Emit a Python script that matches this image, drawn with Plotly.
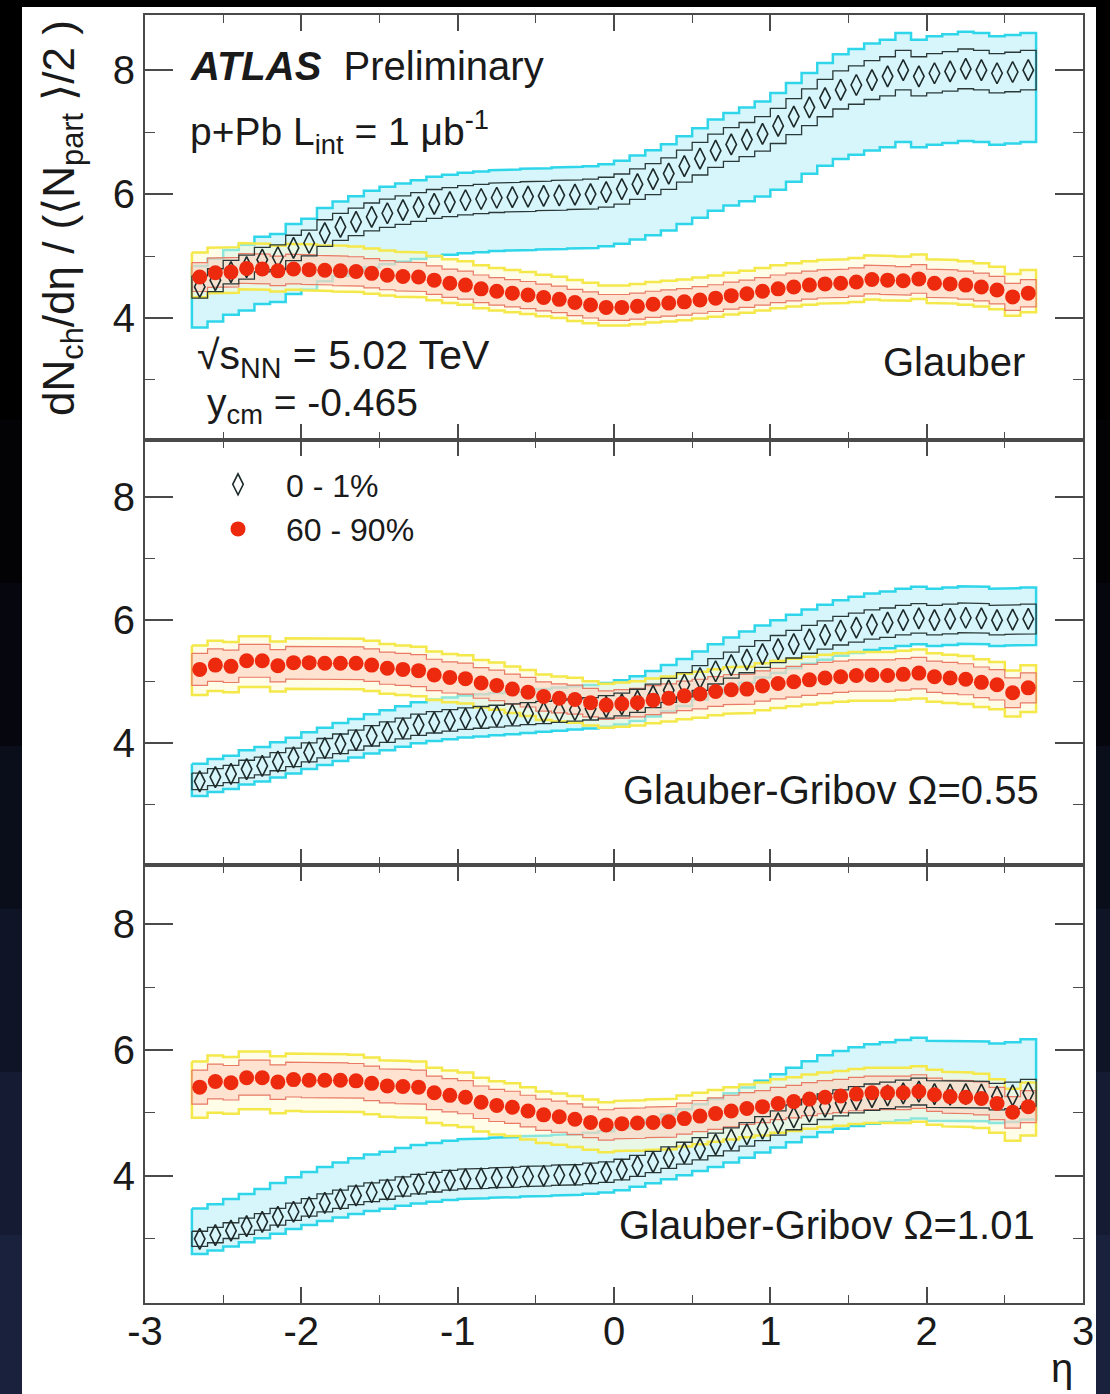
import plotly.graph_objects as go
from plotly.subplots import make_subplots

# ---------------- data ----------------
eta = [-2.65, -2.55, -2.45, -2.35, -2.25, -2.15, -2.05, -1.95, -1.85, -1.75,
       -1.65, -1.55, -1.45, -1.35, -1.25, -1.15, -1.05, -0.95, -0.85, -0.75,
       -0.65, -0.55, -0.45, -0.35, -0.25, -0.15, -0.05, 0.05, 0.15, 0.25,
       0.35, 0.45, 0.55, 0.65, 0.75, 0.85, 0.95, 1.05, 1.15, 1.25,
       1.35, 1.45, 1.55, 1.65, 1.75, 1.85, 1.95, 2.05, 2.15, 2.25,
       2.35, 2.45, 2.55, 2.65]
bin_width = 0.1

# Panel 1: Glauber
glauber_0_1 = [4.50, 4.61, 4.74, 4.82, 4.94, 4.98, 5.13, 5.21, 5.37, 5.47,
               5.55, 5.63, 5.69, 5.74, 5.79, 5.84, 5.87, 5.90, 5.92, 5.94,
               5.95, 5.96, 5.97, 5.98, 5.99, 6.00, 6.03, 6.08, 6.16, 6.24,
               6.33, 6.45, 6.57, 6.70, 6.80, 6.88, 6.97, 7.10, 7.25, 7.40,
               7.55, 7.68, 7.76, 7.84, 7.90, 8.00, 7.90, 7.95, 7.98, 8.02,
               8.00, 7.95, 7.97, 8.00]
glauber_60_90 = [4.66, 4.73, 4.74, 4.80, 4.79, 4.76, 4.79, 4.78, 4.77, 4.76,
                 4.75, 4.72, 4.69, 4.67, 4.66, 4.61, 4.56, 4.53, 4.47, 4.43,
                 4.40, 4.37, 4.33, 4.30, 4.25, 4.21, 4.17, 4.17, 4.19, 4.22,
                 4.24, 4.26, 4.29, 4.32, 4.36, 4.39, 4.43, 4.47, 4.50, 4.53,
                 4.55, 4.56, 4.58, 4.62, 4.61, 4.60, 4.63, 4.56, 4.55, 4.53,
                 4.50, 4.45, 4.34, 4.40]

# Panel 2: Glauber-Gribov Omega=0.55
gg055_0_1 = [3.38, 3.45, 3.50, 3.58, 3.63, 3.70, 3.77, 3.85, 3.92, 3.99,
             4.05, 4.12, 4.18, 4.24, 4.30, 4.34, 4.37, 4.40, 4.42, 4.44,
             4.46, 4.48, 4.50, 4.52, 4.54, 4.56, 4.59, 4.63, 4.69, 4.77,
             4.86, 4.95, 5.06, 5.17, 5.27, 5.36, 5.45, 5.53, 5.61, 5.69,
             5.76, 5.83, 5.88, 5.93, 5.96, 6.00, 6.03, 6.00, 6.02, 6.04,
             6.03, 6.00, 6.01, 6.02]
gg055_60_90 = [5.20, 5.27, 5.25, 5.34, 5.34, 5.26, 5.31, 5.31, 5.30, 5.30,
               5.30, 5.27, 5.22, 5.20, 5.18, 5.11, 5.07, 5.05, 4.98, 4.94,
               4.88, 4.83, 4.76, 4.73, 4.71, 4.66, 4.62, 4.64, 4.66, 4.70,
               4.73, 4.77, 4.80, 4.84, 4.87, 4.88, 4.93, 4.97, 5.00, 5.03,
               5.06, 5.08, 5.10, 5.11, 5.10, 5.12, 5.14, 5.08, 5.06, 5.04,
               4.99, 4.95, 4.82, 4.90]

# Panel 3: Glauber-Gribov Omega=1.01
gg101_0_1 = [3.00, 3.06, 3.13, 3.20, 3.27, 3.35, 3.43, 3.50, 3.57, 3.63,
             3.69, 3.74, 3.78, 3.83, 3.87, 3.90, 3.93, 3.95, 3.96, 3.97,
             3.98, 3.99, 4.00, 4.01, 4.02, 4.04, 4.06, 4.10, 4.16, 4.22,
             4.29, 4.36, 4.43, 4.50, 4.58, 4.66, 4.75, 4.84, 4.93, 5.02,
             5.10, 5.16, 5.21, 5.25, 5.28, 5.31, 5.34, 5.30, 5.29, 5.30,
             5.29, 5.26, 5.28, 5.32]
gg101_60_90 = [5.41, 5.50, 5.48, 5.56, 5.56, 5.49, 5.53, 5.52, 5.52, 5.52,
               5.51, 5.47, 5.43, 5.42, 5.41, 5.32, 5.28, 5.25, 5.17, 5.12,
               5.09, 5.03, 4.97, 4.94, 4.90, 4.85, 4.81, 4.83, 4.84, 4.85,
               4.86, 4.91, 4.95, 4.99, 5.03, 5.07, 5.10, 5.15, 5.18, 5.22,
               5.25, 5.27, 5.30, 5.32, 5.32, 5.32, 5.34, 5.29, 5.26, 5.25,
               5.23, 5.15, 5.01, 5.10]

# relative uncertainties (fractions)
inner_0_1 = 0.04          # black box around diamonds
inner_60_90 = 0.05        # salmon box around circles
outer_up_0_1 = [0.075, 0.085, 0.16]     # cyan band, per panel
outer_dn_0_1 = [0.145, 0.07, 0.08]
outer_up_60_90 = [0.085, 0.075, 0.075]  # yellow band, per panel
outer_dn_60_90 = [0.07, 0.08, 0.09]

panel_labels = ["Glauber", "Glauber-Gribov Ω=0.55", "Glauber-Gribov Ω=1.01"]
series_names = ["0 - 1%", "60 - 90%"]
x_ticks = [-3, -2, -1, 0, 1, 2, 3]
x_ticktext = ["-3", "-2", "-1", "0", "1", "2", "3"]
y_ticks = [4, 6, 8]
y_minor = [3, 5, 7]

central_0_1 = [glauber_0_1, gg055_0_1, gg101_0_1]
central_60_90 = [glauber_60_90, gg055_60_90, gg101_60_90]

# ---------------- layout geometry (pixels) ----------------
W, H = 1110, 1394
L, R, T, B = 145, 1083, 15, 1303
pw, ph = R - L, B - T


def xp(px):
    return (px - L) / pw


def yp(py):
    return (B - py) / ph


domains = [[yp(440), 1.0], [yp(865), yp(440)], [0.0, yp(865)]]
yranges = [[2.03, 8.89], [2.02, 8.93], [1.98, 8.94]]


def band(xc, lo, hi):
    xs, ys = [], []
    for e, h in zip(xc, hi):
        xs += [e - bin_width / 2, e + bin_width / 2]
        ys += [h, h]
    for e, l in reversed(list(zip(xc, lo))):
        xs += [e + bin_width / 2, e - bin_width / 2]
        ys += [l, l]
    xs.append(xs[0])
    ys.append(ys[0])
    return xs, ys


fig = make_subplots(rows=3, cols=1, shared_xaxes=True, vertical_spacing=0)

CYAN_LINE = "#2fd6ea"
CYAN_FILL = "rgba(204,243,251,0.78)"
YEL_LINE = "#f4e84a"
YEL_FILL = "rgba(255,251,205,0.45)"
SAL_LINE = "#e87a66"
SAL_FILL = "rgba(255,205,188,0.55)"
BLK_LINE = "#2a3838"
RED = "#ee2a0e"

for p in range(3):
    row = p + 1
    c0 = central_0_1[p]
    c6 = central_60_90[p]
    xs, ys = band(eta, [v * (1 - outer_dn_0_1[p]) for v in c0],
                  [v * (1 + outer_up_0_1[p]) for v in c0])
    fig.add_trace(go.Scatter(x=xs, y=ys, mode="lines", fill="toself",
                             fillcolor=CYAN_FILL,
                             line=dict(color=CYAN_LINE, width=2.5),
                             showlegend=False, hoverinfo="skip"),
                  row=row, col=1)
    xs, ys = band(eta, [v * (1 - outer_dn_60_90[p]) for v in c6],
                  [v * (1 + outer_up_60_90[p]) for v in c6])
    fig.add_trace(go.Scatter(x=xs, y=ys, mode="lines", fill="toself",
                             fillcolor=YEL_FILL,
                             line=dict(color=YEL_LINE, width=2.5),
                             showlegend=False, hoverinfo="skip"),
                  row=row, col=1)
    xs, ys = band(eta, [v * (1 - inner_60_90) for v in c6],
                  [v * (1 + inner_60_90) for v in c6])
    fig.add_trace(go.Scatter(x=xs, y=ys, mode="lines", fill="toself",
                             fillcolor=SAL_FILL,
                             line=dict(color=SAL_LINE, width=1.2),
                             showlegend=False, hoverinfo="skip"),
                  row=row, col=1)
    xs, ys = band(eta, [v * (1 - inner_0_1) for v in c0],
                  [v * (1 + inner_0_1) for v in c0])
    fig.add_trace(go.Scatter(x=xs, y=ys, mode="lines",
                             line=dict(color=BLK_LINE, width=1.3),
                             showlegend=False, hoverinfo="skip"),
                  row=row, col=1)
    fig.add_trace(go.Scatter(x=eta, y=c0, mode="markers", name=series_names[0],
                             marker=dict(symbol="diamond-tall-open", size=15,
                                         color="#1e2a2a", line=dict(width=1.6)),
                             showlegend=(p == 0), legendrank=1),
                  row=row, col=1)
    fig.add_trace(go.Scatter(x=eta, y=c6, mode="markers", name=series_names[1],
                             marker=dict(symbol="circle", size=15, color=RED,
                                         line=dict(width=0)),
                             showlegend=(p == 0), legendrank=2),
                  row=row, col=1)

FONT = "Liberation Sans, Arial, sans-serif"
TXT = "#1a1a1a"
TICKFONT = dict(family=FONT, size=40, color=TXT)
AXC = "#4a4a4a"

for p in range(3):
    row = p + 1
    fig.update_xaxes(range=[-3, 3], tickvals=x_ticks, ticktext=x_ticktext,
                     ticks="inside", ticklen=16,
                     tickwidth=1.5, tickcolor=AXC,
                     minor=dict(dtick=0.5, tick0=0, ticks="inside", ticklen=8,
                                tickwidth=1.2, tickcolor=AXC),
                     showline=True, linecolor=AXC, linewidth=2, mirror="ticks",
                     showgrid=False, zeroline=False,
                     showticklabels=(row == 3), tickfont=TICKFONT,
                     ticklabelstandoff=-8,
                     row=row, col=1)
    fig.update_yaxes(range=yranges[p], domain=domains[p], tickvals=y_ticks,
                     ticks="inside", ticklen=28, tickwidth=1.5, tickcolor=AXC,
                     minor=dict(tickvals=y_minor, ticks="inside", ticklen=10,
                                tickwidth=1.2, tickcolor=AXC),
                     showline=True, linecolor=AXC, linewidth=2, mirror="ticks",
                     showgrid=False, zeroline=False, tickfont=TICKFONT,
                     ticklabelstandoff=0,
                     row=row, col=1)


def ann(text, x, y, size=34, xanchor="left", yanchor="middle", angle=0):
    fig.add_annotation(text=text, x=xp(x), y=yp(y), xref="paper", yref="paper",
                       xanchor=xanchor, yanchor=yanchor, showarrow=False,
                       textangle=angle,
                       font=dict(family=FONT, size=size, color=TXT))


ann("<b><i>ATLAS</i></b>  Preliminary", 188, 66, size=40)
ann("p+Pb L<sub>int</sub> = 1 μb<sup>-1</sup>", 188, 132, size=39)
ann("√s<sub>NN</sub> = 5.02 TeV", 195, 358, size=41)
ann("y<sub>cm</sub> = -0.465", 205, 405, size=39)
ann(panel_labels[0], 1027, 362, size=40, xanchor="right")
ann(panel_labels[1], 1041, 790, size=40, xanchor="right")
ann(panel_labels[2], 1037, 1225, size=40, xanchor="right")
ann("η", 1062, 1368, size=40, xanchor="center")
ann("dN<sub>ch</sub>/dη / (⟨N<sub>part</sub> ⟩/2 )", 62, 218, size=44,
    xanchor="center", angle=-90)

shapes = [
    dict(type="rect", xref="paper", yref="paper", x0=xp(22), x1=xp(1096),
         y0=yp(1394), y1=yp(7), fillcolor="white", line=dict(width=0),
         layer="below"),
]
left_strip = ["#030306", "#06070e", "#0a0d1a", "#0f1426", "#141b33", "#19213d"]
for i, col in enumerate(left_strip):
    y0 = 420 + i * 163
    shapes.append(dict(type="rect", xref="paper", yref="paper", x0=xp(0), x1=xp(22),
                       y0=yp(y0 + 163), y1=yp(y0), fillcolor=col,
                       line=dict(width=0), layer="below"))
    shapes.append(dict(type="rect", xref="paper", yref="paper", x0=xp(1096), x1=xp(1110),
                       y0=yp(y0 + 163), y1=yp(y0), fillcolor=col,
                       line=dict(width=0), layer="below"))

fig.update_layout(
    width=W, height=H,
    margin=dict(l=L, r=W - R, t=T, b=H - B),
    paper_bgcolor="black", plot_bgcolor="white",
    shapes=shapes,
    font=dict(family=FONT, color=TXT),
    legend=dict(x=xp(190), y=yp(457), xanchor="left", yanchor="top",
                bgcolor="rgba(0,0,0,0)", font=dict(family=FONT, size=32, color=TXT),
                itemwidth=86, tracegroupgap=0),
)

fig.write_html("out.html")
